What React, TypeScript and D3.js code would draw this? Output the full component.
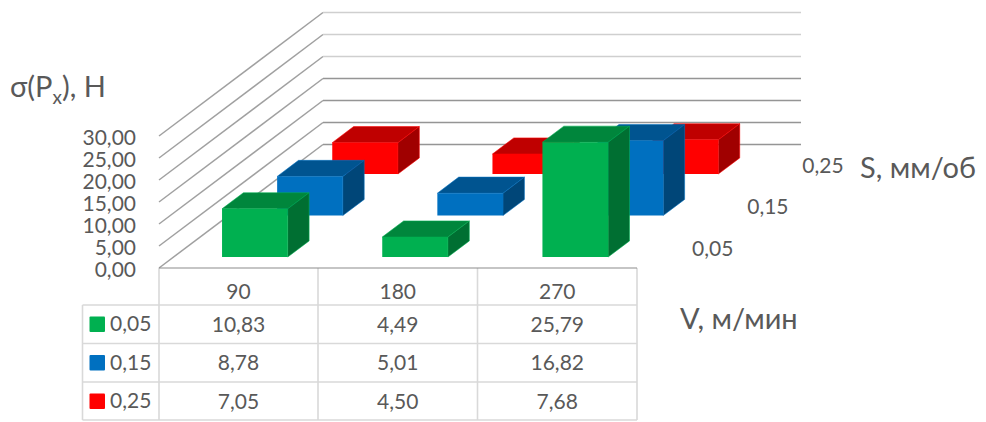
import React from "react";
import * as d3 from "d3";

const speeds = ["90", "180", "270"];
const feeds = ["0,05", "0,15", "0,25"];
const valuesF05 = [10.83, 4.49, 25.79];
const valuesF15 = [8.78, 5.01, 16.82];
const valuesF25 = [7.05, 4.5, 7.68];
const seriesValues = [valuesF05, valuesF15, valuesF25];
const yTicks = [0, 5, 10, 15, 20, 25, 30];
const frontColors = ["#00b050", "#0070c0", "#ff0000"];
const topColors = ["#00863c", "#005490", "#bf0000"];
const sideColors = ["#006f32", "#004678", "#a00000"];

const FONT = "Lato, 'Open Sans', sans-serif";
const TEXT = "#595959";

const floorLeft = 159;
const floorRight = 637.5;
const floorY = 268;
const depthX = 164;
const depthY = 123.5;

// Oblique projection: u runs along the speed axis, d is the 0..1 depth, h is height in px
const u = d3.scaleBand<string>().domain(speeds).range([161, 640]).paddingInner(0.59).paddingOuter(0.29);
const depth = d3.scaleBand<string>().domain(feeds).range([0, 1]).paddingInner(0.612).paddingOuter(0.294).align(0.45);
const yScale = d3.scaleLinear().domain([0, 30]).range([0, 133.5]);

const proj = (x: number, d: number, h: number): [number, number] => [x + d * depthX, floorY - d * depthY - h];
const poly = (pts: [number, number][]) => pts.map((p) => p.join(",")).join(" ");

const format = (v: number) => d3.format(".2f")(v).replace(".", ",");

function Bar({ cat, s, value }: { cat: string; s: number; value: number }) {
  const x0 = u(cat)!;
  const x1 = x0 + u.bandwidth();
  const d0 = depth(feeds[s])!;
  const d1 = d0 + depth.bandwidth();
  const h = yScale(value);
  const a = proj(x0, d0, h);
  const b = proj(x1, d0, h);
  const c = proj(x1, d0, 0);
  const e = proj(x0, d0, 0);
  const f = proj(x0, d1, h);
  const g = proj(x1, d1, h);
  const k = proj(x1, d1, 0);
  return (
    <g strokeLinejoin="round" strokeWidth={0.8}>
      <polygon points={poly([a, b, g, f])} fill={topColors[s]} stroke={frontColors[s]} strokeOpacity={0.7} />
      <polygon points={poly([b, c, k, g])} fill={sideColors[s]} stroke={frontColors[s]} strokeOpacity={0.7} />
      <polygon points={poly([a, b, c, e])} fill={frontColors[s]} />
    </g>
  );
}

export default function App() {
  const colX = [159, 318, 477.5, 637];
  const rowY = [305, 343.5, 382, 420];
  const tableLeft = 82.5;
  return (
    <svg width={986} height={422} style={{ position: "absolute", left: 0, top: 0, background: "#fff" }} fontFamily={FONT}>
      {yTicks.map((t) => {
        const h = 132 * (t / 30);
        const back = proj(floorLeft, 1, h);
        const front = proj(floorLeft, 0, h);
        return (
          <g key={t}>
            <line x1={front[0]} y1={front[1]} x2={back[0]} y2={back[1]} stroke="#a0a0a0" strokeWidth={1.5} />
            <line x1={back[0]} y1={back[1]} x2={801} y2={back[1]} stroke={t >= 20 ? "#cfcfcf" : "#959595"} strokeWidth={1.5} />
            <text x={136} y={front[1] + 8.5} textAnchor="end" fontSize={21} fill={TEXT}>{format(t)}</text>
          </g>
        );
      })}

      {/* table grid */}
      <g stroke="#d9d9d9" strokeWidth={1.6} fill="none">
        {colX.map((x) => <line key={x} x1={x} x2={x} y1={floorY} y2={rowY[3]} />)}
        <line x1={tableLeft} x2={tableLeft} y1={rowY[0]} y2={rowY[3]} />
        {rowY.map((y) => <line key={y} x1={tableLeft} x2={colX[3]} y1={y} y2={y} />)}
      </g>
      <line x1={floorLeft} x2={colX[3]} y1={floorY} y2={floorY} stroke="#8c8c8c" strokeWidth={1.2} />

      {/* bars, drawn from the back row forward */}
      {[2, 1, 0].map((s) => speeds.map((c, i) => <Bar key={`${s}-${c}`} cat={c} s={s} value={seriesValues[s][i]} />))}

      {/* depth axis labels */}
      {feeds.map((f) => {
        const p = proj(floorRight, depth(f)! + depth.bandwidth() / 2, 0);
        return <text key={f} x={p[0] + 50} y={p[1] + 7} fontSize={21} fill={TEXT} textAnchor="middle">{f}</text>;
      })}

      {/* table text */}
      {speeds.map((c, i) => (
        <text key={c} x={(colX[i] + colX[i + 1]) / 2} y={299} textAnchor="middle" fontSize={21} fill={TEXT}>{c}</text>
      ))}
      {feeds.map((f, s) => (
        <g key={f}>
          <rect x={89.5} y={rowY[s] + 11.5} width={15.5} height={15.5} rx={1} fill={frontColors[s]} />
          <text x={110} y={rowY[s] + 26} fontSize={21} fill={TEXT}>{f}</text>
          {seriesValues[s].map((v, i) => (
            <text key={i} x={(colX[i] + colX[i + 1]) / 2} y={rowY[s] + 26.5} textAnchor="middle" fontSize={21} fill={TEXT}>{format(v)}</text>
          ))}
        </g>
      ))}

      {/* axis titles */}
      <text x={10} y={97} fontSize={29} fill={TEXT}>σ(P<tspan fontSize={19} dy={7}>x</tspan><tspan dy={-7}>), Н</tspan></text>
      <text x={860} y={178} fontSize={29} fill={TEXT}>S, мм/об</text>
      <text x={680} y={329} fontSize={29} fill={TEXT}>V, м/мин</text>
    </svg>
  );
}
